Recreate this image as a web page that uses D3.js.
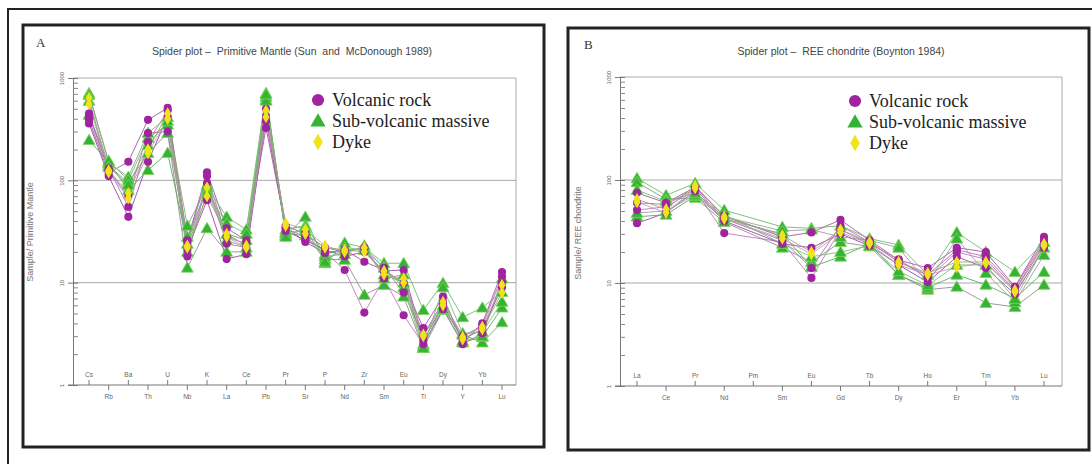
<html>
<head>
<style>
  body { margin: 0; background: #fff; }
  .pre { white-space: pre; }
</style>
</head>
<body>
<div id="chart"></div>
<script src="https://d3js.org/d3.v7.min.js"></script>
<script>
// primitive mantle elements
var pmElements = ["Cs","Rb","Ba","Th","U","Nb","K","La","Ce","Pb","Pr","Sr","P","Nd","Zr","Sm","Eu","Ti","Dy","Y","Yb","Lu"];
// REE elements (Pm not analysed)
var reeElements = ["La","Ce","Pr","Nd","Pm","Sm","Eu","Gd","Tb","Dy","Ho","Er","Tm","Yb","Lu"];
var yTicks = [1, 10, 100, 1000];

var groups = ["Volcanic rock", "Sub-volcanic massive", "Dyke"];

// sample/primitive mantle
var pmV1 = [390,118,152,390,510,26,120,34,26,325,35,25,19.5,21,16,13.3,9.9,3.6,7.3,2.6,4.0,12.7];
var pmV2 = [420,130,55,237,480,18,94,24,22,380,34,28,20,13.3,5.1,11,4.8,2.5,5.5,2.5,3.2,10];
var pmV3 = [360,110,44,152,420,21,64,17,19,420,32,26,21,18,20,13,13.3,2.7,6,2.8,3.5,9];
var pmV4 = [450,125,70,290,300,25,110,28,24,500,36,30,22,20,22,14,8,3.0,6.5,3.0,3.8,11.5];
var pmS1 = [710,148,108,290,415,36,86,44,33,710,29,44,15.5,24.5,22,15.5,15.5,5.4,9.9,4.6,5.7,8.1];
var pmS2 = [437,140,94,185,290,14,34,20,20,610,30,29,17,16.7,7.6,9.5,7.3,2.3,5.4,3.1,2.6,4.1];
var pmS3 = [247,150,80,126,185,24,90,30,26,650,33,36,19,21,21,12,10,2.5,5.5,2.6,2.95,5.7];
var pmS4 = [680,155,100,260,350,28,80,26,22,600,31,32,18,19,23,11,12,2.4,6,2.7,3.0,11];
var pmS5 = [600,135,90,220,380,20,75,38,30,690,28,34,16,22,21,14,9,2.3,9,3.2,3.3,6.5];
var pmD1 = [640,120,67,185,400,22,85,28,22,415,38,33,23,20,22,12,11,3.1,6.5,2.95,3.7,9.5];
var pmD2 = [560,125,75,200,450,23,70,30,23,480,36,30,22,21,20,13,10,3.0,6,2.8,3.5,8];

// sample/chondrite
var reeV1 = [75,60,85,45,null,28,31,41,26,16.7,14,22,20,9.2,28];
var reeV2 = [51,55,80,30.5,null,25,11.2,33,24,17,11,20,17,8.5,25];
var reeV3 = [38,48,78,40,null,24,22,30,23,15,10.2,18,14,7.8,22];
var reeV4 = [60,58,82,42,null,26,14,36,25,16,12,21,18,9,26];
var reeS1 = [104,71,93,51,null,35,34,36,27,23.4,12,31,20,12.8,25];
var reeS2 = [95,65,67,39,null,22,16,25,22.6,12,8.6,9.2,6.4,5.85,9.6];
var reeS3 = [44,46,70,42,null,30,14.3,18,24,12,9,12,9.6,7.1,12.8];
var reeS4 = [48,50,72,44,null,32,33,28,26,22,10,27,12.5,6.5,18.7];
var reeS5 = [80,62,75,46,null,24,18,20,23,13,9.5,15,15,7,22];
var reeD1 = [61,48,83,42,null,27,19,31,24,15,12,14.3,15.6,8.2,24];
var reeD2 = [65,52,88,44,null,29,20,33,25,16,12.5,16,16,8.5,23];

var pmSamples = [
  {g:0, v:pmV1, c:"#a24aa6"}, {g:0, v:pmV2, c:"#c070c0"}, {g:0, v:pmV3, c:"#9040a0"}, {g:0, v:pmV4, c:"#b860b8"},
  {g:1, v:pmS1, c:"#66b866"}, {g:1, v:pmS2, c:"#8a8a8a"}, {g:1, v:pmS3, c:"#50a850"}, {g:1, v:pmS4, c:"#999"}, {g:1, v:pmS5, c:"#70c070"},
  {g:2, v:pmD1, c:"#c090c8"}, {g:2, v:pmD2, c:"#a0a070"}
];
var reeSamples = [
  {g:0, v:reeV1, c:"#a24aa6"}, {g:0, v:reeV2, c:"#c070c0"}, {g:0, v:reeV3, c:"#9040a0"}, {g:0, v:reeV4, c:"#b860b8"},
  {g:1, v:reeS1, c:"#66b866"}, {g:1, v:reeS2, c:"#8a8a8a"}, {g:1, v:reeS3, c:"#50a850"}, {g:1, v:reeS4, c:"#999"}, {g:1, v:reeS5, c:"#70c070"},
  {g:2, v:reeD1, c:"#c090c8"}, {g:2, v:reeD2, c:"#a0a070"}
];

var markFill = ["#a0239f", "#36b336", "#f0e31c"];
var markShape = [d3.symbolCircle, d3.symbolTriangle, d3.symbolDiamond];
var markSize = [52, 62, 44];
var sans = "Arial, 'Liberation Sans', sans-serif";
var serif = "'Liberation Serif', 'Times New Roman', serif";

var svg = d3.select("#chart").append("svg")
  .attr("width", 1092).attr("height", 464)
  .attr("font-family", sans);

// outer frame
svg.append("rect").attr("x", 8).attr("y", 9).attr("width", 1090).attr("height", 470)
  .attr("fill", "none").attr("stroke", "#222").attr("stroke-width", 2);

function panel(opt) {
  var g = svg.append("g");
  g.append("rect").attr("x", opt.frame[0]).attr("y", opt.frame[1])
    .attr("width", opt.frame[2]).attr("height", opt.frame[3])
    .attr("fill", "#fff").attr("stroke", "#222").attr("stroke-width", 3);

  var x = d3.scalePoint().domain(opt.elements).range(opt.xr);
  var y = d3.scaleLog().domain([1, 1000]).range(opt.yr);
  var left = opt.box[0], right = opt.box[1];
  var top = y(1000), bottom = y(1);

  // box top/right
  g.append("path").attr("d", "M" + left + "," + top + "H" + right + "V" + bottom)
    .attr("fill", "none").attr("stroke", "#aaa").attr("stroke-width", 1);

  // grid lines
  g.selectAll(".grid").data([10, 100]).enter().append("line")
    .attr("x1", left).attr("x2", right)
    .attr("y1", function(d){ return y(d); }).attr("y2", function(d){ return y(d); })
    .attr("stroke", "#a8a8a8").attr("stroke-width", 1);

  // y axis, major ticks + labels
  var ya = g.append("g").attr("transform", "translate(" + left + ",0)")
    .call(d3.axisLeft(y).tickValues(yTicks).tickSize(5).tickSizeOuter(0).tickFormat(d3.format("d")));
  ya.attr("font-family", sans);
  ya.select(".domain").attr("stroke", "#777");
  ya.selectAll(".tick line").attr("stroke", "#777").attr("x2", -5).attr("x1", 5);
  ya.selectAll(".tick text").attr("font-size", 6).attr("fill", "#666")
    .attr("transform", "rotate(-90)").attr("x", 0).attr("y", -9).attr("dy", 0)
    .attr("text-anchor", "middle");
  // minor ticks inside
  var minor = [];
  [1, 10, 100].forEach(function(d){ for (var k = 2; k < 10; k++) minor.push(d * k); });
  g.append("g").attr("transform", "translate(" + left + ",0)")
    .call(d3.axisRight(y).tickValues(minor).tickSize(5).tickFormat(""))
    .call(function(s){ s.select(".domain").remove(); s.selectAll("line").attr("stroke", "#888"); });

  // x axis
  g.append("line").attr("x1", left - 5).attr("x2", right).attr("y1", bottom).attr("y2", bottom)
    .attr("stroke", "#777");
  var xt = g.selectAll(".xt").data(opt.elements).enter().append("g")
    .attr("transform", function(d){ return "translate(" + x(d) + "," + bottom + ")"; });
  xt.append("line").attr("y1", 0).attr("y2", function(d, i){ return i % 2 ? 5 : -5; })
    .attr("stroke", "#777");
  xt.append("text").text(function(d){ return d; })
    .attr("y", function(d, i){ return i % 2 ? 14 : -8; })
    .attr("text-anchor", "middle").attr("font-size", 6.5).attr("fill", "#666");

  // titles
  g.append("text").attr("class", "pre").attr("x", opt.title[1]).attr("y", 55).attr("text-anchor", "middle")
    .attr("font-size", 10.5).attr("fill", "#444").text(opt.title[0]);
  g.append("text").attr("x", opt.letter[1]).attr("y", opt.letter[2])
    .attr("font-family", serif).attr("font-size", 13)
    .attr("fill", "#333").text(opt.letter[0]);
  g.append("text").attr("transform", "translate(" + opt.ylab[1] + "," + opt.ylab[2] + ") rotate(-90)")
    .attr("text-anchor", "middle").attr("font-size", 9).attr("fill", "#777").text(opt.ylab[0]);

  // lines
  var line = d3.line()
    .x(function(d){ return x(d[0]); }).y(function(d){ return y(d[1]); });
  function pairs(s) {
    return opt.elements.map(function(e, i){ return [e, s.v[i]]; }).filter(function(d){ return d[1] != null; });
  }
  g.selectAll(".ln").data(opt.samples).enter().append("path")
    .attr("d", function(s){ return line(pairs(s)); })
    .attr("fill", "none").attr("stroke", function(s){ return s.c; })
    .attr("stroke-width", 1).attr("opacity", 0.85);

  // markers
  [1, 0, 2].forEach(function(gi){
    opt.samples.filter(function(s){ return s.g === gi; }).forEach(function(s){
      g.selectAll(null).data(pairs(s)).enter().append("path")
        .attr("d", d3.symbol().type(markShape[gi]).size(markSize[gi]))
        .attr("transform", function(d){ return "translate(" + x(d[0]) + "," + (y(d[1]) + (gi === 1 ? 1 : 0)) + ")"; })
        .attr("fill", markFill[gi])
        .attr("stroke", gi === 1 ? "#7ad45a" : "none").attr("stroke-width", 0.8);
    });
  });

  // legend
  var lg = g.append("g").attr("transform", "translate(" + opt.legend[0] + "," + opt.legend[1] + ")");
  groups.forEach(function(name, i){
    lg.append("path").attr("d", d3.symbol().type(markShape[i]).size([115, 100, 80][i]))
      .attr("transform", "translate(0," + (i * 21 + (i === 1 ? 1 : 0)) + ")")
      .attr("fill", markFill[i]);
    lg.append("text").attr("x", 14).attr("y", i * 21 + 6)
      .attr("font-family", serif)
      .attr("font-size", 18).attr("fill", "#222").text(name);
  });
}

panel({
  frame: [23, 25, 521, 422],
  elements: pmElements, xr: [89, 502], yr: [385, 78], box: [73, 516],
  samples: pmSamples,
  title: ["Spider plot \u2013  Primitive Mantle (Sun  and  McDonough 1989)", 292],
  letter: ["A", 36, 47],
  ylab: ["Sample/ Primitive Mantle", 33, 232],
  legend: [318, 100]
});
panel({
  frame: [568, 28, 521, 422],
  elements: reeElements, xr: [637, 1044], yr: [386, 77], box: [620, 1062],
  samples: reeSamples,
  title: ["Spider plot \u2013  REE chondrite (Boynton 1984)", 841],
  letter: ["B", 584, 49],
  ylab: ["Sample/ REE chondrite", 581, 233],
  legend: [855, 101]
});
</script>
</body>
</html>
